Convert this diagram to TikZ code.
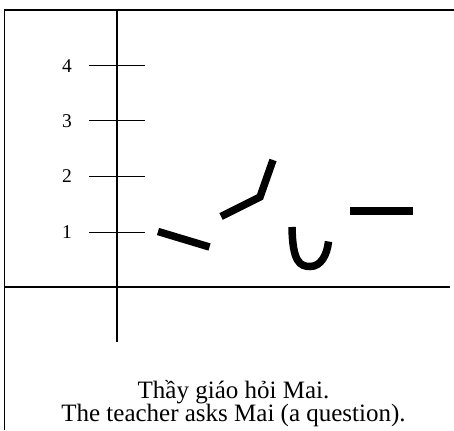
\documentclass[tikz,border=0pt]{standalone}
\usepackage{fontspec}
\setmainfont{Liberation Serif}
\begin{document}
\begin{tikzpicture}[x=1pt,y=-1pt,
  frameline/.style={line width=1.5pt},
  tickline/.style={line width=1pt},
  tonestroke/.style={line width=7.5pt},
  ticklabel/.style={font=\fontsize{19.5}{22}\selectfont, inner sep=0pt},
  caption/.style={font=\fontsize{25}{24}\selectfont, inner sep=0pt, anchor=base}]
\useasboundingbox (0,0) rectangle (454,430);
% frame
\coordinate (fTL) at (4.5,10);
\coordinate (fTR) at (454,10);
\coordinate (fBL) at (4.5,430);
\draw[frameline] (fTR) -- (fTL) -- (fBL);
% axes
\coordinate (vTop) at (117,10);
\coordinate (vBot) at (117,342);
\coordinate (hL) at (4.5,287);
\coordinate (hR) at (450,287);
\draw[frameline] (vTop) -- (vBot);
\draw[frameline] (hL) -- (hR);
% ticks and labels
\foreach \n/\y in {1/232,2/176.5,3/121,4/66}{
  \coordinate (t\n a) at (89,\y);
  \coordinate (t\n b) at (145,\y);
  \draw[tickline] (t\n a) -- (t\n b);
  \node[ticklabel] (l\n) at (67,\y) {\n};
}
% tone strokes
\coordinate (s1a) at (158,231.5);
\coordinate (s1b) at (209.5,247);
\draw[tonestroke] (s1a) -- (s1b);
\coordinate (s2a) at (221,216.5);
\coordinate (s2b) at (260,197);
\coordinate (s2c) at (273,160);
\draw[tonestroke] (s2a) -- (s2b) -- (s2c);
\coordinate (s3a) at (292,227);
\coordinate (s3b) at (310,266.5);
\coordinate (s3c) at (328.5,241.5);
\draw[tonestroke] (s3a) .. controls (292.5,262) and (300,266.5) .. (s3b)
  .. controls (321,266.5) and (327,255) .. (s3c);
\coordinate (s4a) at (350,211);
\coordinate (s4b) at (413,211);
\draw[tonestroke] (s4a) -- (s4b);
% caption
\node[caption] (cap1) at (233.5,398) {Thầy giáo hỏi Mai.};
\node[caption] (cap2) at (233.5,421.5) {The teacher asks Mai (a question).};
\end{tikzpicture}
\end{document}
